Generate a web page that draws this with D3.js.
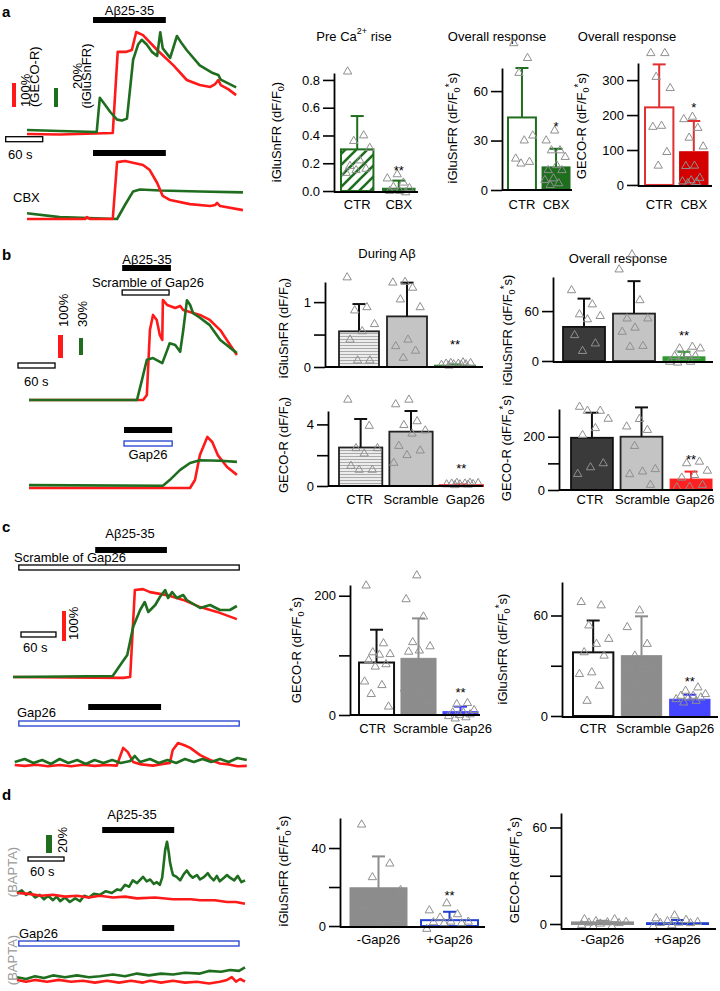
<!DOCTYPE html>
<html><head><meta charset="utf-8">
<script src="https://cdn.jsdelivr.net/npm/d3@7"></script>
<style>body{margin:0;background:#fff} svg{display:block}</style>
</head><body>
<script>
const FONT = "'Liberation Sans', Arial, sans-serif";
const RED = "#ff1a1a", TGREEN = "#1f6e1f", DG = "#1e6e1e", BLUE = "#2040d0";

// ---------- trace data: [time (s), dF/F (%)] ----------
const aUpRed = [[0,0],[53,-2],[139,4],[147,342],[160,342],[170,350],[177,425],[188,412],[211,350],[237,287],[259,225],[280,204],[297,196],[305,208],[310,225],[314,204],[326,187],[339,162]];
const aUpGreen = [[0,1],[53,0],[113,-1],[118,35],[125,29],[135,20],[146,12],[154,11],[162,13],[172,75],[180,91],[186,96],[194,91],[203,83],[211,79],[216,104],[220,87],[232,77],[243,100],[251,92],[259,85],[280,69],[301,61],[310,59],[314,54],[339,46]];
const aLoRed = [[0,0],[94,0],[97,8],[102,0],[139,0],[146,237],[159,242],[188,225],[199,204],[211,150],[220,96],[232,79],[264,62],[297,54],[305,58],[308,67],[313,54],[350,37]];
const aLoGreen = [[0,6],[53,2],[146,0],[159,15],[172,29],[183,31],[216,30],[280,29],[350,28]];
const bUpRed = [[0,0],[185,0],[191,22],[196,304],[201,370],[207,348],[212,283],[216,261],[217,435],[224,413],[237,400],[245,409],[250,391],[277,370],[293,348],[310,304],[326,239],[337,196]];
const bUpGreen = [[0,0],[175,0],[183,35],[191,71],[201,74],[216,65],[224,88],[228,100],[237,97],[245,85],[250,123],[256,176],[261,168],[266,153],[277,145],[293,132],[310,106],[326,92],[337,83]];
const bLoRed = [[0,0],[261,0],[269,35],[277,143],[289,222],[297,200],[306,143],[321,91],[337,57]];
const bLoGreen = [[0,5],[217,4],[228,14],[245,32],[261,44],[277,49],[310,48],[337,46]];
const cUpRed = [[0,0],[189,-3],[201,0],[209,290],[223,293],[235,283],[264,273],[292,257],[321,233],[350,217],[384,193]];
const cUpGreen = [[0,0],[171,1],[184,12],[196,22],[206,50],[218,67],[226,75],[232,65],[244,72],[252,80],[261,87],[266,79],[273,85],[281,79],[292,82],[298,77],[321,69],[338,72],[355,67],[372,67],[384,71]];
const cLoRed = [[3,0],[20,-3],[40,1],[60,-4],[80,0],[100,-4],[120,1],[140,-3],[160,0],[178,-2],[189,57],[197,43],[206,10],[220,2],[240,-2],[255,3],[269,7],[274,50],[283,73],[294,66],[304,57],[321,33],[338,17],[355,5],[370,2],[385,-4],[401,-3]];
const cLoGreen = [[3,3],[20,6],[35,2],[50,5],[65,1],[80,6],[95,2],[110,5],[125,1],[140,5],[155,2],[170,5],[185,2],[201,4],[209,9],[218,3],[235,6],[250,2],[265,5],[280,2],[295,6],[310,3],[325,6],[340,3],[355,6],[370,3],[385,7],[401,5]];
const dUpRed = [[0,0],[20,-1],[40,-3],[60,-2],[80,-4],[100,-3],[120,-5],[138,-3],[160,-5],[180,-4],[200,-6],[230,-5],[260,-7],[290,-7],[305,-8],[330,-8],[350,-10],[365,-10],[380,-12]];
const dUpGreen = [[0,0],[8,3],[15,-2],[22,1],[30,-5],[38,-2],[45,-7],[52,-3],[60,-8],[66,-4],[72,-9],[80,-5],[88,-10],[97,-6],[105,-9],[112,-3],[120,-5],[128,-1],[138,-2],[148,2],[158,0],[167,4],[173,3],[180,9],[187,7],[193,14],[200,11],[210,18],[216,13],[222,15],[228,10],[233,12],[238,9],[242,17],[247,48],[250,57],[253,45],[255,34],[258,25],[260,20],[266,18],[272,14],[278,21],[283,25],[288,20],[293,17],[300,20],[305,15],[312,18],[318,22],[322,18],[328,14],[333,19],[338,13],[345,17],[350,20],[355,17],[362,14],[368,19],[374,12],[380,14]];
const dLoRed = [[0,-1],[15,-3],[30,-1],[50,-3],[70,-1],[90,-3],[110,-2],[130,-4],[150,-2],[170,-4],[190,-2],[210,-4],[222,-2],[240,-4],[260,-2],[280,-4],[300,-3],[320,-5],[338,-3],[350,-1],[358,2],[365,-3],[372,0],[380,-3]];
const dLoGreen = [[0,2],[15,0],[30,3],[45,1],[60,4],[80,2],[100,4],[120,2],[138,3],[160,5],[180,3],[200,6],[220,4],[240,6],[260,5],[280,7],[305,6],[320,9],[340,8],[355,10],[370,9],[380,13]];

// application periods (s)
const aAbeta = [107,225];
const bAbeta = [151,230], bScr = [151,227], bLoAbeta = [154,232], bGap = [154,232];
const cAbeta = [141,264], cScr = [10,388], cLoAbeta = [129,254], cGap = [10,388];
const dAbeta = [142,262], dLoAbeta = [142,262], dGap = [3,370];

// ---------- bar chart data ----------
const catA = ["CTR","CBX"];
const aPreMean = [0.30,0.02], aPreErr = [0.54,0.075];
const aPrePts = [[0.86,0.40,0.36,0.31,0.22,0.18,0.16,0.15,0.13],[0.12,0.09,0.06,0.03,0.02,0.0,0.0,-0.01]];
const aGluMean = [44,14], aGluErr = [74,25];
const aGluPts = [[89,80,71,33,30,19,17,16],[36,30,24,24,20,15,12,12,7,6,4,3]];
const aGecoMean = [222,95], aGecoErr = [345,183];
const aGecoPts = [[377,377,309,277,169,166,94,55],[195,188,163,135,110,55,54,20,13,10,8,5]];

const catB = ["CTR","Scramble","Gap26"];
const bDurGluMean = [0.55,0.78,0.02], bDurGluErr = [0.97,1.30,0.04];
const bDurGluPts = [[1.38,0.92,0.87,0.66,0.55,0.42,0.10,0.10],[1.31,1.30,1.22,1.04,0.92,0.42,0.32,0.25,0.14],[0.07,0.06,0.06,0.05,0.05,0.04,0.04,0.03,0.03,0.02]];
const bOvGluMean = [41,57,5], bOvGluErr = [75,96,11];
const bOvGluPts = [[85,68,56,54,50,31,21,12],[128,110,73,51,51,40,35,18,17],[17,15,15,8,6,6,5,-1,-1,-2]];
const bDurGecoMean = [2.5,3.53,0.05], bDurGecoErr = [4.35,4.87,0.1];
const bDurGecoPts = [[5.6,3.9,2.45,2.45,2.1,1.3,1.05,1.05],[5.6,5.3,4.2,3.95,3.6,3.4,2.6,2.3,2.0,1.5],[0.2,0.2,0.18,0.15,0.15,0.12,0.1,0.1,0.08,0.05]];
const bOvGecoMean = [196,200,41], bOvGecoErr = [290,310,69];
const bOvGecoPts = [[312,297,297,267,232,206,100,85,60],[266,238,225,165,78,69,59,19],[106,100,72,56,46,19,12,10]];

const cGecoMean = [88,95,5.6], cGecoErr = [143,162,14];
const cGecoPts = [[217,120,105,102,101,92,85,81,56,50,35,14],[234,194,165,122,115,108,106,62,49,44,39,28,24],[20,18,8,4,4,1,0,-2,-4,-6]];
const cGluMean = [38,36,10], cGluErr = [57,59.5,12.7];
const cGluPts = [[68,66,54,46,43,38,36,26,25,18,9],[63,53,43,36,31,31,29,26,20,11,9,8,3],[17,15,13,12,12,11,11,10,9,8]];

const catD = ["-Gap26","+Gap26"];
const dGluMean = [19.6,3], dGluErr = [35.7,7.3];
const dGluPts = [[52,32,25,18.4,16.7,10.7,3.6,2.2],[11.6,8,6,4.3,2.2,2.2,1.9,1.4,1.4,-1.5]];
const dGecoMean = [1,0.5], dGecoErr = [2,2.5];
const dGecoPts = [[2.9,2.9,1.7,1.2,1.0,0.8,0.5,0.2,-0.6,-1.6,-1.6],[5.3,3.5,2.5,1.7,1.2,0.8,0.6,0.5,-0.8,-1.5]];

// ---------- drawing ----------
const svg = d3.select("body").append("svg").attr("width",720).attr("height",991)
  .style("font-family",FONT);
const defs = svg.append("defs");
const ph = defs.append("pattern").attr("id","hatchG").attr("patternUnits","userSpaceOnUse").attr("width",11).attr("height",11);
ph.append("rect").attr("width",11).attr("height",11).attr("fill","#fff");
ph.append("path").attr("d","M0,11 L11,0 M-3,3 L3,-3 M8,14 L14,8").attr("stroke",DG).attr("stroke-width",2.6);
const ps = defs.append("pattern").attr("id","stripeH").attr("patternUnits","userSpaceOnUse").attr("width",4).attr("height",3);
ps.append("rect").attr("width",4).attr("height",3).attr("fill","#ececec");
ps.append("rect").attr("width",4).attr("height",0.8).attr("fill","#9a9a9a");

function txt(x,y,s,o={}) {
  const t = svg.append("text").attr("x",x).attr("y",y).text(s)
    .attr("font-size",o.size||13).attr("fill",o.fill||"#000")
    .attr("text-anchor",o.anchor||"start");
  if (o.bold) t.attr("font-weight","bold");
  if (o.rot) t.attr("transform",`rotate(-90,${x},${y})`);
  return t;
}

function tracePanel(cfg) {
  const x = d3.scaleLinear().domain([0,60]).range([cfg.x0, cfg.x0 + 60*cfg.pps]);
  const yr = d3.scaleLinear().domain([0,100]).range([cfg.baseR, cfg.baseR - 100*cfg.rpp]);
  const yg = d3.scaleLinear().domain([0,100]).range([cfg.baseG, cfg.baseG - 100*cfg.gpp]);
  const g = svg.append("g");
  const draw = (data, ys, col) => g.append("path").datum(data)
    .attr("d", d3.line().x(d=>x(d[0])).y(d=>ys(d[1])))
    .attr("fill","none").attr("stroke",col).attr("stroke-width",2.6).attr("stroke-linejoin","round");
  (cfg.order||["red","green"]).forEach(k => {
    if (k==="red" && cfg.red) draw(cfg.red, yr, RED);
    if (k==="green" && cfg.green) draw(cfg.green, yg, TGREEN);
  });
  (cfg.apps||[]).forEach(a => {
    const r = g.append("rect").attr("x",x(a.t[0])).attr("y",a.y).attr("width",x(a.t[1])-x(a.t[0])).attr("height",a.h);
    if (a.type==="solid") r.attr("fill","#000");
    else r.attr("fill","#fff").attr("stroke",a.color).attr("stroke-width",1.3);
  });
  return {x, yr, yg};
}

function scaleBar60(s, px, py, h) {
  svg.append("rect").attr("x",px).attr("y",py).attr("width",s.x(60)-s.x(0)).attr("height",h)
    .attr("fill","#fff").attr("stroke","#000").attr("stroke-width",1.3);
}
function vBar(ys, pct, px, bottom, w, col) {
  const hgt = ys(0) - ys(pct);
  svg.append("rect").attr("x",px).attr("y",bottom-hgt).attr("width",w).attr("height",hgt).attr("fill",col);
}

function yLabel(x, y, main, star) {
  const t = svg.append("text").attr("transform",`translate(${x},${y}) rotate(-90)`)
    .attr("text-anchor","middle").attr("font-size",13).attr("dy","0.35em");
  t.append("tspan").text(main + " (dF/F");
  t.append("tspan").attr("font-size",9).attr("dy",3).text("0");
  if (star) {
    t.append("tspan").attr("font-size",10).attr("dy",-7).text("*");
    t.append("tspan").attr("dy",4).text("s)");
  } else {
    t.append("tspan").attr("dy",-3).text(")");
  }
}

function barChart(c) {
  const y = d3.scaleLinear().domain(c.domain).range([c.bottom, c.top]);
  const x = d3.scaleBand().domain(c.cats).range(c.band).paddingInner(c.pad).paddingOuter(0);
  const g = svg.append("g");
  const bw = x.bandwidth();
  c.cats.forEach((cat,i) => {
    const st = c.styles[i];
    const y0 = y(0), y1 = y(c.mean[i]);
    g.append("rect").attr("x",x(cat)).attr("y",Math.min(y0,y1)).attr("width",bw)
      .attr("height",Math.max(Math.abs(y0-y1),0.6))
      .attr("fill",st.fill).attr("stroke",st.stroke||"none").attr("stroke-width",st.sw||1.5);
  });
  c.cats.forEach((cat,i) => {
    const st = c.styles[i], cx = x(cat) + bw/2;
    const col = st.err || st.stroke || "#000";
    g.append("line").attr("x1",cx).attr("x2",cx).attr("y1",y(c.mean[i])).attr("y2",y(c.err[i]))
      .attr("stroke",col).attr("stroke-width",2);
    g.append("line").attr("x1",cx-6.5).attr("x2",cx+6.5).attr("y1",y(c.err[i])).attr("y2",y(c.err[i]))
      .attr("stroke",col).attr("stroke-width",2);
  });
  const tri = d3.symbol().type(d3.symbolTriangle).size(30);
  c.cats.forEach((cat,i) => {
    const cx = x(cat) + bw/2;
    c.pts[i].forEach((v,j) => {
      const f = ((j*0.618034 + 0.31*i + 0.13) % 1) - 0.5;
      g.append("path").attr("d",tri()).attr("transform",`translate(${cx + f*bw*0.8},${y(v)})`)
        .attr("fill","none").attr("stroke","#8f8f8f").attr("stroke-width",1);
    });
  });
  const ax = g.append("g").attr("transform",`translate(${c.left},0)`)
    .call(d3.axisLeft(y).tickValues(c.ticks).tickSize(11).tickSizeOuter(0).tickPadding(3)
      .tickFormat(d => c.labels.includes(d) ? (c.fmt ? c.fmt(d) : String(d)) : ""));
  ax.attr("font-family",FONT).attr("font-size",13);
  ax.selectAll("text").attr("fill","#000");
  ax.select(".domain").attr("stroke-width",1.8);
  ax.selectAll(".tick line").attr("stroke-width",1.6);
  g.append("line").attr("x1",c.left).attr("x2",c.right).attr("y1",y(c.domain[0])).attr("y2",y(c.domain[0]))
    .attr("stroke","#000").attr("stroke-width",1.8);
  if (c.catY != null) c.cats.forEach((cat,i) => txt(x(cat)+bw/2 + (c.catDx ? c.catDx[i] : 0), c.catY, cat, {anchor:"middle"}));
  if (c.star) txt(x(c.cats[c.star.i]) + bw/2, y(c.star.v), c.star.s, {anchor:"middle"});
  yLabel(c.ylx, c.yly, c.ylab, c.ystar);
  return {x,y};
}

// ===== panel a traces =====
txt(2,17,"a",{bold:true,size:15});
const aU = tracePanel({x0:27,pps:0.617,baseR:134,baseG:131,rpp:0.24,gpp:0.95,red:aUpRed,green:aUpGreen,
  apps:[{t:aAbeta,y:17,h:6,type:"solid"}]});
const aL = tracePanel({x0:27,pps:0.617,baseR:219,baseG:219,rpp:0.24,gpp:0.95,red:aLoRed,green:aLoGreen,
  order:["green","red"], apps:[{t:aAbeta,y:150,h:6,type:"solid"}]});
txt(aU.x(166),15,"Aβ25-35",{anchor:"middle"});
vBar(aU.yr,100,12,107,4,RED);
vBar(aU.yg,20,54,107,4,TGREEN);
txt(30,107,"100%",{rot:true});
txt(38.5,107,"(GECO-R)",{rot:true});
txt(82,76,"20%",{rot:true,anchor:"middle"});
txt(91,76,"(iGluSnFR)",{rot:true,anchor:"middle"});
scaleBar60(aU,5.7,136.7,5);
txt(8,159,"60 s");
txt(13,202,"CBX");

// ===== panel b traces =====
txt(2,260,"b",{bold:true,size:15});
const bU = tracePanel({x0:29,pps:0.617,baseR:400,baseG:400,rpp:0.23,gpp:0.567,red:bUpRed,green:bUpGreen,
  order:["red","green"], apps:[{t:bAbeta,y:265,h:6,type:"solid"},{t:bScr,y:290,h:5,type:"open",color:"#000"}]});
const bL = tracePanel({x0:29,pps:0.617,baseR:488,baseG:488,rpp:0.23,gpp:0.567,red:bLoRed,green:bLoGreen,
  apps:[{t:bLoAbeta,y:427,h:6,type:"solid"},{t:bGap,y:441,h:5,type:"open",color:BLUE}]});
txt(147,264,"Aβ25-35",{anchor:"middle"});
txt(148,287,"Scramble of Gap26",{anchor:"middle"});
txt(148,459,"Gap26",{anchor:"middle"});
vBar(bU.yr,100,58,358,5,RED);
vBar(bU.yg,30,79,355,4,TGREEN);
txt(68,327,"100%",{rot:true});
txt(87,327,"30%",{rot:true});
scaleBar60(bU,18,363,5);
txt(24,386,"60 s");

// ===== panel c traces =====
txt(2,532,"c",{bold:true,size:15});
const cU = tracePanel({x0:13,pps:0.583,baseR:677,baseG:677,rpp:0.3,gpp:1.0,red:cUpRed,green:cUpGreen,
  apps:[{t:cAbeta,y:547,h:6,type:"solid"},{t:cScr,y:565,h:5,type:"open",color:"#000"}]});
const cL = tracePanel({x0:13,pps:0.583,baseR:765,baseG:765,rpp:0.3,gpp:1.0,red:cLoRed,green:cLoGreen,
  apps:[{t:cLoAbeta,y:704,h:6,type:"solid"},{t:cGap,y:721,h:5,type:"open",color:BLUE}]});
txt(130,538,"Aβ25-35",{anchor:"middle"});
txt(14,562,"Scramble of Gap26");
txt(17,717,"Gap26");
vBar(cU.yr,100,62,641,4,RED);
txt(78,640,"100%",{rot:true});
scaleBar60(cU,21,632,5);
txt(23,652,"60 s");

// ===== panel d traces =====
txt(2,800,"d",{bold:true,size:15});
const dU = tracePanel({x0:17,pps:0.6,baseR:893,baseG:893,rpp:0.9,gpp:0.9,red:dUpRed,green:dUpGreen,
  order:["green","red"], apps:[{t:dAbeta,y:827,h:6,type:"solid"}]});
const dL = tracePanel({x0:17,pps:0.6,baseR:979,baseG:979,rpp:0.9,gpp:0.9,red:dLoRed,green:dLoGreen,
  order:["green","red"], apps:[{t:dLoAbeta,y:925,h:6,type:"solid"},{t:dGap,y:941,h:5,type:"open",color:BLUE}]});
txt(132,819,"Aβ25-35",{anchor:"middle"});
vBar(dU.yg,20,46,853,6,TGREEN);
txt(67,853,"20%",{rot:true});
scaleBar60(dU,28,857,4);
txt(30,876,"60 s");
txt(17,872,"(BAPTA)",{rot:true,anchor:"middle",fill:"#9a9a9a"});
txt(17,960,"(BAPTA)",{rot:true,anchor:"middle",fill:"#9a9a9a"});
txt(19,938,"Gap26");

// ===== titles =====
const t1 = txt(354,41,"Pre Ca",{anchor:"middle"});
t1.append("tspan").attr("font-size",9).attr("dy",-7).text("2+");
t1.append("tspan").attr("dy",7).text(" rise");
txt(497,41,"Overall response",{anchor:"middle"});
txt(627,41,"Overall response",{anchor:"middle"});
txt(387,258,"During Aβ",{anchor:"middle"});
txt(618,263,"Overall response",{anchor:"middle"});

// ===== bar charts =====
const stA1 = [{fill:"url(#hatchG)",stroke:DG,sw:2,err:DG},{fill:DG,stroke:DG,sw:1,err:DG}];
const stA2 = [{fill:"#fff",stroke:DG,sw:2,err:DG},{fill:DG,stroke:DG,sw:1,err:DG}];
const stA3 = [{fill:"#fff",stroke:"#e03030",sw:2,err:"#e03030"},{fill:"#d40000",stroke:"#d40000",sw:1,err:"#e03030"}];
const stB1 = [{fill:"url(#stripeH)",stroke:"#222",sw:1.8,err:"#111"},{fill:"#c4c4c4",stroke:"#222",sw:1.8,err:"#111"},{fill:"#2e8b2e",stroke:"#2e8b2e",sw:2,err:"#2e8b2e"}];
const stB2 = [{fill:"#3a3a3a",stroke:"#111",sw:1.8,err:"#111"},{fill:"#c4c4c4",stroke:"#222",sw:1.8,err:"#111"},{fill:"#2e9a2e",stroke:"#2e9a2e",sw:1,err:"#2e9a2e"}];
const stB3 = [stB1[0],stB1[1],{fill:RED,stroke:RED,sw:2,err:RED}];
const stB4 = [stB2[0],stB2[1],{fill:"#ff2020",stroke:"#ff2020",sw:1,err:"#ff2020"}];
const stC = [{fill:"#fff",stroke:"#111",sw:2,err:"#111"},{fill:"#8c8c8c",stroke:"#8c8c8c",sw:1,err:"#8c8c8c"},{fill:"#4646ff",stroke:"#4646ff",sw:1,err:"#3434ff"}];
const stD1 = [{fill:"#8c8c8c",stroke:"#8c8c8c",sw:1,err:"#8c8c8c"},{fill:"#fff",stroke:BLUE,sw:2,err:BLUE}];
const stD2 = [{fill:"#8c8c8c",stroke:"#8c8c8c",sw:2,err:"#8c8c8c"},{fill:BLUE,stroke:BLUE,sw:2,err:BLUE}];

barChart({cats:catA,mean:aPreMean,err:aPreErr,pts:aPrePts,styles:stA1,left:334,right:418,top:73,bottom:192,
  domain:[-0.007,0.85],band:[341,415],pad:0.22,ticks:[0,0.2,0.4,0.6,0.8],labels:[0,0.2,0.4,0.6,0.8],fmt:d=>d.toFixed(1),
  catY:209,star:{i:1,v:0.115,s:"**"},ylx:276,yly:132,ylab:"iGluSnFR",ystar:false});
barChart({cats:catA,mean:aGluMean,err:aGluErr,pts:aGluPts,styles:stA2,left:502,right:572,top:68,bottom:190,
  domain:[0,74],band:[508,570],pad:0.18,ticks:[0,30,60],labels:[0,30,60],
  catY:209,star:{i:1,v:36,s:"*"},ylx:452,yly:128,ylab:"iGluSnFR",ystar:true});
barChart({cats:catA,mean:aGecoMean,err:aGecoErr,pts:aGecoPts,styles:stA3,left:638,right:712,top:63,bottom:186,
  domain:[-3,349],band:[645,708],pad:0.18,ticks:[0,100,200,300],labels:[0,100,200,300],
  catY:209,star:{i:1,v:208,s:"*"},ylx:581,yly:126,ylab:"GECO-R",ystar:true});

barChart({cats:catB,mean:bDurGluMean,err:bDurGluErr,pts:bDurGluPts,styles:stB1,left:325,right:483,top:282,bottom:367,
  domain:[0,1.31],band:[339,475],pad:0.167,ticks:[0,0.5,1],labels:[0,1],
  catY:null,star:{i:2,v:0.28,s:"**"},ylx:283,yly:328,ylab:"iGluSnFR",ystar:false});
barChart({cats:catB,mean:bOvGluMean,err:bOvGluErr,pts:bOvGluPts,styles:stB2,left:553,right:713,top:277,bottom:362,
  domain:[-1.2,101],band:[563,705],pad:0.16,ticks:[0,60],labels:[0,60],
  catY:null,star:{i:2,v:25,s:"**"},ylx:507,yly:330,ylab:"iGluSnFR",ystar:true});
barChart({cats:catB,mean:bDurGecoMean,err:bDurGecoErr,pts:bDurGecoPts,styles:stB3,left:328,right:483,top:411,bottom:486,
  domain:[0,4.87],band:[339,483],pad:0.14,ticks:[0,2,4],labels:[0,4],
  catY:504,catDx:[-1,0,4],star:{i:2,v:0.84,s:"**"},ylx:283,yly:445,ylab:"GECO-R",ystar:false});
barChart({cats:catB,mean:bOvGecoMean,err:bOvGecoErr,pts:bOvGecoPts,styles:stB4,left:559,right:713,top:409,bottom:490,
  domain:[0,304],band:[571,712],pad:0.155,ticks:[0,100,200],labels:[0,200],
  catY:504,catDx:[-2,1,4],star:{i:2,v:97,s:"**"},ylx:506,yly:448,ylab:"GECO-R",ystar:true});

barChart({cats:catB,mean:cGecoMean,err:cGecoErr,pts:cGecoPts,styles:stC,left:350,right:480,top:585,bottom:715,
  domain:[0,218],band:[359,478],pad:0.165,ticks:[0,100,200],labels:[0,200],
  catY:733,catDx:[-4,2,12],star:{i:2,v:30,s:"**"},ylx:296,yly:650,ylab:"GECO-R",ystar:true});
barChart({cats:catB,mean:cGluMean,err:cGluErr,pts:cGluPts,styles:stC,left:562,right:718,top:582,bottom:717,
  domain:[-0.6,80],band:[573,710],pad:0.165,ticks:[0,30,60],labels:[0,60],
  catY:733,catDx:[0,2,5],star:{i:2,v:18,s:"**"},ylx:502,yly:649,ylab:"iGluSnFR",ystar:true});

barChart({cats:catD,mean:dGluMean,err:dGluErr,pts:dGluPts,styles:stD1,left:340,right:485,top:818,bottom:927,
  domain:[-0.5,55.4],band:[350,478],pad:0.197,ticks:[0,20,40],labels:[0,40],
  catY:944,star:{i:1,v:13.3,s:"**"},ylx:283,yly:871,ylab:"iGluSnFR",ystar:true});
barChart({cats:catD,mean:dGecoMean,err:dGecoErr,pts:dGecoPts,styles:stD2,left:561,right:716,top:813,bottom:929,
  domain:[-3.1,69],band:[572,708],pad:0.187,ticks:[0,30,60],labels:[0,60],
  catY:944,star:null,ylx:514,yly:870,ylab:"GECO-R",ystar:true});
</script>
</body></html>
